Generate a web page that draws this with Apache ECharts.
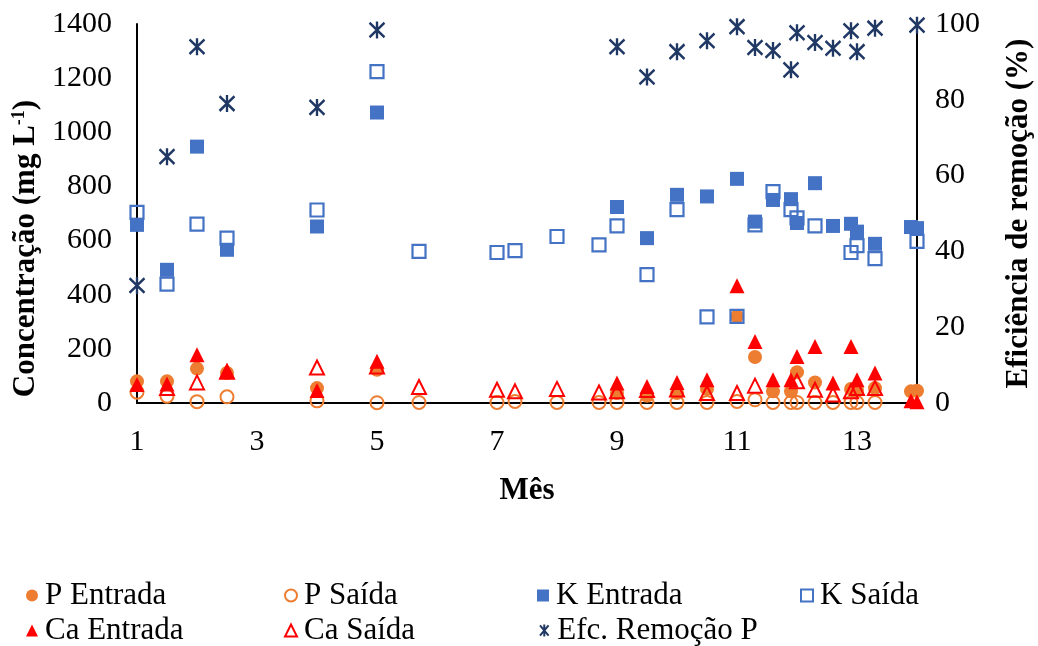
<!DOCTYPE html>
<html>
<head>
<meta charset="utf-8">
<script src="https://cdn.jsdelivr.net/npm/echarts@6/dist/echarts.min.js"></script>
<style>
  html, body { margin: 0; padding: 0; background: #fff; }
  #chart { width: 1038px; height: 646px; }
</style>
</head>
<body>
<div id="chart"></div>
<script>
// Sampling months (shared by all series; null = no sample for that series)
const months    = [1, 1.5, 2, 2.5, 4, 5, 5.7, 7, 7.3, 8, 8.7, 9, 9.5, 10, 10.5, 11, 11.3, 11.6, 11.9, 12, 12.3, 12.6, 12.9, 13, 13.3, 13.9, 14];

// Concentrations (mg L-1)
const pEntrada  = [80, 80, 127, 111, 55, 123, null, null, null, null, null, 37, 27, 37, 52, 320, 170, 43, 43, 114, 76, null, 52, 48, 55, 43, 45];
const pSaida    = [40, 25, 5, 23, 8, 1, 2, 2, 6, 2, 2, 2, 2, 2, 2, 6, 12, 2, 2, 2, 2, 2, 2, 2, 2, null, null];
const kEntrada  = [658, 492, 947, 566, 652, 1073, null, null, null, null, null, 724, 609, 769, 763, 828, 670, 750, 753, 665, 812, 654, 662, 633, 588, 650, 646];
const kSaida    = [704, 439, 661, 609, 713, 1224, 560, 556, 563, 615, 584, 654, 474, 714, 318, 320, 658, 781, 714, 684, 654, null, 556, 581, 533, null, 597];
const caEntrada = [68, 70, 178, 120, 46, 154, null, null, null, null, null, 74, 61, 76, 86, 433, 227, 86, 86, 172, 209, 74, 209, 86, 111, 8, 5];
const caSaida   = [null, 55, 76, 115, 131, 135, 59, 49, 43, 52, 39, 43, 48, 50, 37, 37, 64, null, null, 80, 49, 31, 43, 55, 55, null, null];

// Phosphorus removal efficiency (%)
const efcRemocaoP = [31, 65, 94, 79, 78, 98.4, null, null, null, null, null, 94, 86, 92.7, 95.6, 99.3, 93.8, 93.0, 87.9, 97.7, 95.1, 93.6, 98.2, 92.7, 98.9, null, 99.7];

// Axis tick labels
const monthTicks = [1, 3, 5, 7, 9, 11, 13];

function pairs(values) {
  const out = [];
  months.forEach((m, i) => { if (values[i] !== null) out.push([m, values[i]]); });
  return out;
}

const FONT = '"Liberation Serif", "Times New Roman", serif';
const ORANGE = '#ED7D31', BLUE = '#4472C4', RED = '#FF0000', NAVY = '#203864';
const CLEAR = 'rgba(255,255,255,0)';
const STAR = 'path://M0 0L10 12M10 0L0 12M5 -1L5 13';

const series = [
  { name: 'P Entrada', data: pairs(pEntrada), symbol: 'circle', symbolSize: 14,
    itemStyle: { color: ORANGE } },
  { name: 'P Saída', data: pairs(pSaida), symbol: 'circle', symbolSize: 13,
    itemStyle: { color: CLEAR, borderColor: ORANGE, borderWidth: 2 } },
  { name: 'K Entrada', data: pairs(kEntrada), symbol: 'rect', symbolSize: 14,
    itemStyle: { color: BLUE } },
  { name: 'K Saída', data: pairs(kSaida), symbol: 'rect', symbolSize: 13,
    itemStyle: { color: CLEAR, borderColor: BLUE, borderWidth: 2.2 } },
  { name: 'Ca Entrada', data: pairs(caEntrada), symbol: 'triangle', symbolSize: 15,
    itemStyle: { color: RED } },
  { name: 'Ca Saída', data: pairs(caSaida), symbol: 'triangle', symbolSize: 14,
    itemStyle: { color: CLEAR, borderColor: RED, borderWidth: 2 } },
  { name: 'Efc. Remoção P', data: pairs(efcRemocaoP), yAxisIndex: 1, symbol: STAR, symbolSize: [15, 17],
    itemStyle: { color: CLEAR, borderColor: NAVY, borderWidth: 2.5 } }
].map(s => {
  s.itemStyle.opacity = 1;
  return Object.assign({ type: 'scatter', xAxisIndex: 0, yAxisIndex: 0, z: 2 }, s);
});

// Legend laid out in two rows of four columns
const legendSlots = [
  ['P Entrada', 26, 580], ['P Saída', 284, 580], ['K Entrada', 537, 580], ['K Saída', 800, 580],
  ['Ca Entrada', 26, 615], ['Ca Saída', 284, 615], ['Efc. Remoção P', 539, 615]
];
const legends = legendSlots.map(([name, left, top]) => ({
  data: [name], left: left, top: top, orient: 'horizontal',
  itemWidth: 12, itemHeight: 12, itemGap: 0, padding: 0,
  selectedMode: false,
  textStyle: { fontFamily: FONT, fontSize: 31, color: '#000', padding: [0, 0, 0, 2] }
}));

const axisLabelStyle = { fontFamily: FONT, fontSize: 30, color: '#000' };
const axisNameStyle = { fontFamily: FONT, fontSize: 31, fontWeight: 'bold', color: '#000' };
const plain = v => String(v);

const chart = echarts.init(document.getElementById('chart'), null, { renderer: 'canvas' });
chart.setOption({
  animation: false,
  backgroundColor: '#fff',
  grid: { left: 137, right: 121, top: 24, bottom: 243, containLabel: false, outerBoundsMode: 'none' },
  legend: legends,
  xAxis: {
    type: 'value', min: 1, max: 14,
    name: 'Mês', nameLocation: 'middle', nameGap: 72,
    nameTextStyle: axisNameStyle,
    axisLine: { show: true, onZero: false, lineStyle: { color: '#000', width: 2 } },
    axisTick: { show: false },
    splitLine: { show: false },
    axisLabel: Object.assign({ margin: 24, customValues: monthTicks, formatter: plain }, axisLabelStyle)
  },
  yAxis: [
    {
      type: 'value', min: 0, max: 1400, interval: 200, position: 'left',
      name: '{t|Concentração (mg L}{s|-1}{t|)}', nameLocation: 'middle', nameGap: 84, nameRotate: 90,
      nameTextStyle: {
        padding: [0, 70, 0, 0],
        rich: {
          t: axisNameStyle,
          s: { fontFamily: FONT, fontSize: 18, fontWeight: 'bold', color: '#000', verticalAlign: 'top', padding: [0, 0, 13, 0] }
        }
      },
      axisLine: { show: true, lineStyle: { color: '#000', width: 2 } },
      axisTick: { show: false },
      splitLine: { show: false },
      axisLabel: Object.assign({ margin: 25, formatter: plain }, axisLabelStyle)
    },
    {
      type: 'value', min: 0, max: 100, interval: 20, position: 'right',
      name: 'Eficiência de remoção (%)', nameLocation: 'middle', nameGap: 86, nameRotate: 90,
      nameTextStyle: axisNameStyle,
      axisLine: { show: true, lineStyle: { color: '#000', width: 2 } },
      axisTick: { show: false },
      splitLine: { show: false },
      axisLabel: Object.assign({ margin: 18, formatter: plain }, axisLabelStyle)
    }
  ],
  series: series
});
</script>
</body>
</html>
